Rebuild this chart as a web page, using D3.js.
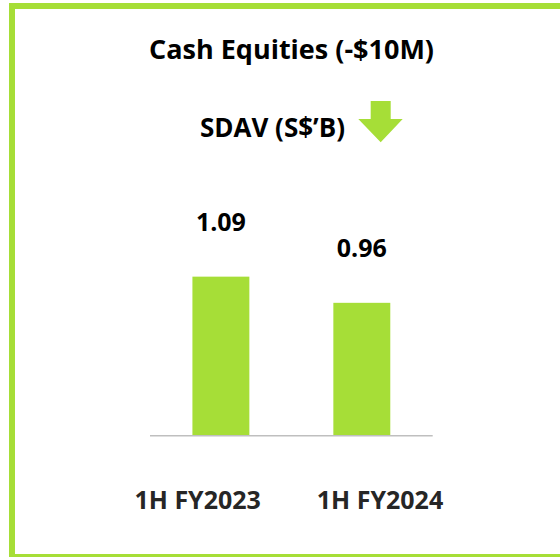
<!DOCTYPE html>
<html>
<head>
<meta charset="utf-8">
<script src="https://cdn.jsdelivr.net/npm/d3@7"></script>
<style>
  html, body { margin: 0; padding: 0; background: #fff; }
  svg { display: block; }
  text { font-family: "Open Sans", Lato, sans-serif; font-weight: 700; }
</style>
</head>
<body>
<svg id="chart" width="560" height="557"></svg>
<script>
const title = "Cash Equities (-$10M)";
const subtitle = "SDAV (S$\u2019B)";
const categories = ["1H FY2023", "1H FY2024"];
const values = [1.09, 0.96];
const valueLabels = ["1.09", "0.96"];

const green = "#a6de37";
const svg = d3.select("#chart");

// frame (right edge runs off the picture)
svg.append("rect")
  .attr("x", 12).attr("y", 6).attr("width", 620).attr("height", 551)
  .attr("fill", "none").attr("stroke", green).attr("stroke-width", 6);

// titles
svg.append("text").attr("x", 291.5).attr("y", 58.5)
  .attr("text-anchor", "middle").attr("font-size", 27).attr("fill", "#000")
  .text(title);
svg.append("text").attr("x", 272.5).attr("y", 136.5)
  .attr("text-anchor", "middle").attr("font-size", 26).attr("fill", "#000")
  .text(subtitle);

// down arrow
const arrow = d3.path();
arrow.moveTo(370.7, 101); arrow.lineTo(390.7, 101); arrow.lineTo(390.7, 119);
arrow.lineTo(402.7, 119); arrow.lineTo(380.7, 142.3); arrow.lineTo(358.3, 119);
arrow.lineTo(370.7, 119); arrow.closePath();
svg.append("path").attr("d", arrow.toString()).attr("fill", green);

// scales
const x = d3.scaleBand().domain(categories).range([150, 432.7])
  .paddingInner(0.596).paddingOuter(0.301);
const y = d3.scaleLinear().domain([0.3, 1.2]).range([435.7, 254.5]);
const xLabel = d3.scalePoint().domain(categories).range([197.7, 380]);

// bars
svg.selectAll("rect.bar").data(values).join("rect")
  .attr("class", "bar")
  .attr("x", (d, i) => x(categories[i]))
  .attr("width", x.bandwidth())
  .attr("y", d => y(d))
  .attr("height", d => y(0.3) - y(d))
  .attr("fill", green);

// value labels
svg.selectAll("text.val").data(values).join("text")
  .attr("class", "val")
  .attr("x", (d, i) => x(categories[i]) + x.bandwidth() / 2)
  .attr("y", d => y(d) - 46)
  .attr("text-anchor", "middle").attr("font-size", 25).attr("fill", "#000")
  .text((d, i) => valueLabels[i]);

// baseline axis
svg.append("line")
  .attr("x1", 150).attr("x2", 432.7)
  .attr("y1", y(0.3)).attr("y2", y(0.3))
  .attr("stroke", "#bfbfbf").attr("stroke-width", 1.5);

// category labels
svg.selectAll("text.cat").data(categories).join("text")
  .attr("class", "cat")
  .attr("x", d => xLabel(d)).attr("y", 509.3)
  .attr("text-anchor", "middle").attr("font-size", 25).attr("fill", "#262626")
  .text(d => d);
</script>
</body>
</html>
